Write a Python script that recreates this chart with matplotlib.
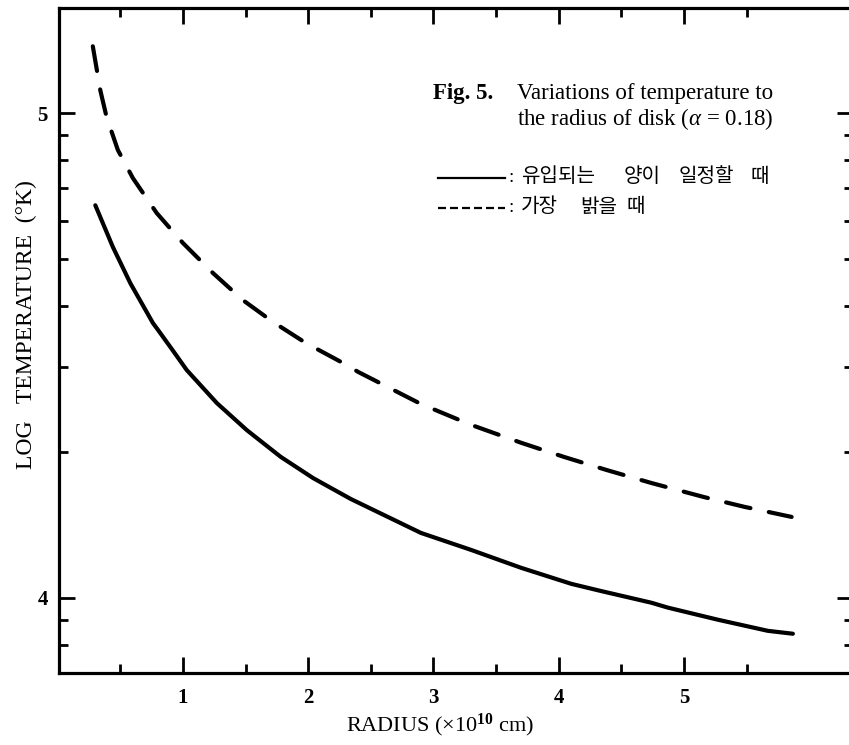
import numpy as np
import matplotlib
matplotlib.use('Agg')
import matplotlib.pyplot as plt
from matplotlib.lines import Line2D

# curves (radius in 1e10 cm, log T)
radius_const = [0.30, 0.44, 0.58, 0.76, 0.80, 0.92, 1.03, 1.27, 1.51, 1.78, 2.04, 2.34,
                2.90, 3.30, 3.70, 4.10, 4.34, 4.74, 4.87, 5.27, 5.67, 5.87]
logt_const = [4.810, 4.724, 4.649, 4.567, 4.553, 4.510, 4.470, 4.402, 4.346, 4.291, 4.247, 4.204,
              4.134, 4.099, 4.062, 4.029, 4.014, 3.990, 3.980, 3.955, 3.932, 3.926]

radius_bright = [0.28, 0.34, 0.39, 0.48, 0.60, 0.79, 1.00, 1.24, 1.48, 1.72, 1.98, 2.26,
                 2.40, 2.90, 3.30, 3.70, 4.04, 4.38, 4.74, 5.16, 5.48, 5.86]
logt_bright = [5.138, 5.047, 4.992, 4.924, 4.866, 4.794, 4.732, 4.670, 4.614, 4.569, 4.526, 4.487,
               4.466, 4.400, 4.357, 4.320, 4.291, 4.264, 4.237, 4.208, 4.188, 4.167]

x_major = [1, 2, 3, 4, 5]
x_minor = [0.5, 1.5, 2.5, 3.5, 4.5, 5.5]
y_major = [4, 5]
y_minor_T = [8e3, 9e3, 2e4, 3e4, 4e4, 5e4, 6e4, 7e4, 8e4, 9e4]   # log-spaced minor ticks

words_const = ['유입되는', '양이', '일정할', '때']
words_bright = ['가장', '밝을', '때']

plt.rcParams['font.family'] = ['Liberation Serif', 'Noto Sans CJK KR']
plt.rcParams['mathtext.fontset'] = 'custom'
plt.rcParams['mathtext.rm'] = 'Liberation Serif'
plt.rcParams['mathtext.it'] = 'Liberation Serif:italic'
plt.rcParams['mathtext.bf'] = 'Liberation Serif:bold'

W, H = 849, 745
fig = plt.figure(figsize=(W/100, H/100), dpi=100)
ax = fig.add_axes([59/W, 1-673/H, (853-59)/W, (673-8)/H])

ax.plot(radius_const, logt_const, color='black', lw=3, solid_capstyle='round', solid_joinstyle='round')
ax.plot(radius_bright, logt_bright, color='black', lw=3, dashes=(6, 4.5), dash_capstyle='round')

ax.set_xlim(0.01, 6.35)
ax.set_ylim(3.845, 5.217)

ax.set_xticks(x_major)
ax.set_xticklabels([str(v) for v in x_major], fontweight='bold')
ax.set_xticks(x_minor, minor=True)
ax.set_yticks(y_major)
ax.set_yticklabels([str(v) for v in y_major], fontweight='bold')
ax.set_yticks(np.log10(y_minor_T), minor=True)

ax.tick_params(which='both', direction='in', top=True, right=True, width=2, labelsize=15)
ax.tick_params(which='major', length=11.5)
ax.tick_params(which='minor', length=6.5)
ax.tick_params(axis='x', pad=11)
ax.tick_params(axis='y', pad=8)
for s in ax.spines.values():
    s.set_linewidth(2.3)

ax.set_xlabel(r'RADIUS (×10$^{\mathbf{10}}$ cm)', fontsize=16)
ax.xaxis.set_label_coords((440-59)/(853-59), -(712-673)/(673-8))
ax.set_ylabel('LOG   TEMPERATURE  (°K)', fontsize=17)
ax.yaxis.set_label_coords((37-59)/(853-59), (673-325)/(673-8))

# caption + legend drawn inside the figure
fig.text(433/W, 1-93/H, 'Fig. 5.', fontsize=16.5, fontweight='bold', va='center')
fig.text(517/W, 1-93/H, 'Variations of temperature to', fontsize=16.5, va='center')
fig.text(517/W, 1-119/H, r'the radius of disk ($\alpha$ = 0.18)', fontsize=16.5, va='center')

fig.add_artist(Line2D([438/W, 505/W], [1-178/H]*2, color='black', lw=1.6))
fig.add_artist(Line2D([438/W, 505/W], [1-208/H]*2, color='black', lw=1.6, dashes=(3.6, 1.8)))
fig.text(508/W, 1-178/H, ':', fontsize=14, va='center')
fig.text(508/W, 1-208/H, ':', fontsize=14, va='center')
for w, xp in zip(words_const, [521, 624, 679, 750]):
    fig.text(xp/W, 1-178/H, w, fontsize=14.5, va='center')
for w, xp in zip(words_bright, [521, 580, 627]):
    fig.text(xp/W, 1-208/H, w, fontsize=14.5, va='center')

fig.savefig('out.png', dpi=100)
